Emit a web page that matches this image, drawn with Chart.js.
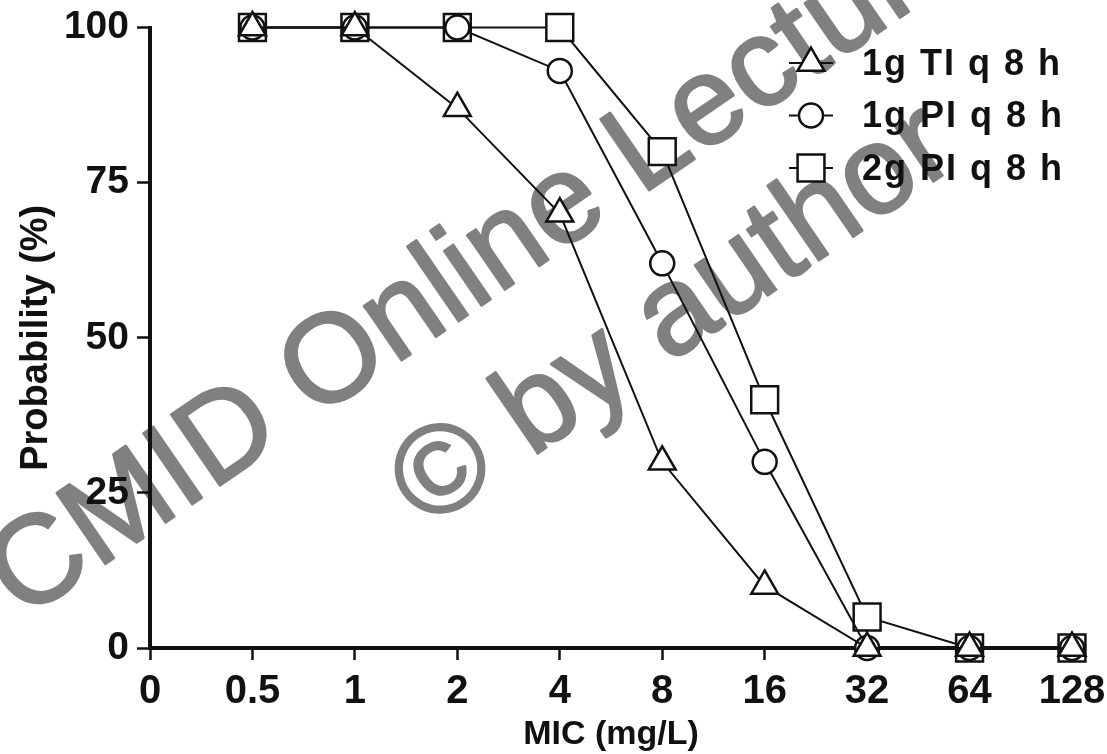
<!DOCTYPE html>
<html>
<head>
<meta charset="utf-8">
<script src="https://cdn.jsdelivr.net/npm/chart.js@4.4.0/dist/chart.umd.min.js"></script>
<style>
  html, body { margin: 0; padding: 0; background: #fff; }
  #wrap { width: 1107px; height: 754px; }
</style>
</head>
<body>
<div id="wrap"><canvas id="micChart" width="1107" height="754"></canvas></div>
<script>
// === DATA ===
const MIC_LABELS = ['0', '0.5', '1', '2', '4', '8', '16', '32', '64', '128'];
const TI_1G_Q8H = [null, 100, 100, 87, 70, 30, 10, 0, 0, 0];
const PI_1G_Q8H = [null, 100, 100, 100, 93, 62, 30, 0, 0, 0];
const PI_2G_Q8H = [null, 100, 100, 100, 100, 80, 40, 5, 0, 0];
const SERIES_NAMES = ['1g TI q 8 h', '1g PI q 8 h', '2g PI q 8 h'];
const Y_TICKS = [0, 25, 50, 75, 100];
const WATERMARK = ['CMID Online Lecture', '\u00A9 by author'];

const FONT = '"Liberation Sans", Arial, Helvetica, sans-serif';
const INK = '#111';

// === SERIES STYLE ===
function series(label, data, style, radius) {
  return {
    label, data,
    borderColor: INK, borderWidth: 2,
    pointStyle: style, pointRadius: radius, pointHoverRadius: radius,
    pointBackgroundColor: '#fff', pointBorderColor: INK, pointBorderWidth: 2.5,
    tension: 0, spanGaps: false, clip: false, fill: false
  };
}

// === WATERMARK (behind everything) ===
function stamp(ctx, text, x, y, deg) {
  ctx.save();
  ctx.fillStyle = '#808080';
  ctx.strokeStyle = '#808080';
  ctx.lineWidth = 2.5;
  ctx.lineJoin = 'round';
  ctx.textAlign = 'center';
  ctx.textBaseline = 'middle';
  ctx.font = `125px ${FONT}`;
  ctx.translate(x, y);
  ctx.rotate(deg * Math.PI / 180);
  ctx.fillText(text, 0, 0);
  ctx.strokeText(text, 0, 0);
  ctx.restore();
}

const watermark = {
  id: 'watermark',
  beforeDraw(chart) {
    stamp(chart.ctx, WATERMARK[0], 484, 262, -34.5);
    stamp(chart.ctx, WATERMARK[1], 674, 318, -34.5);
  }
};

// === LEGEND (top right, line through marker) ===
const cornerLegend = {
  id: 'cornerLegend',
  afterDraw(chart) {
    const ctx = chart.ctx;
    chart.data.datasets.forEach((ds, i) => {
      const y = 63 + i * 52.5;
      ctx.save();
      ctx.strokeStyle = INK;
      ctx.lineWidth = 2;
      ctx.beginPath();
      ctx.moveTo(789, y);
      ctx.lineTo(833, y);
      ctx.stroke();
      ctx.fillStyle = '#fff';
      ctx.lineWidth = 2.5;
      Chart.helpers.drawPoint(ctx, { pointStyle: ds.pointStyle, radius: ds.pointRadius, rotation: 0, borderWidth: 2.5 }, 811, y);
      ctx.fillStyle = INK;
      ctx.font = `bold 36px ${FONT}`;
      ctx.letterSpacing = '2px';
      ctx.textAlign = 'left';
      ctx.textBaseline = 'middle';
      ctx.fillText(SERIES_NAMES[i], 862, y + 2);
      ctx.restore();
    });
  }
};

new Chart(document.getElementById('micChart'), {
  type: 'line',
  data: {
    labels: MIC_LABELS,
    datasets: [
      series(SERIES_NAMES[0], TI_1G_Q8H, 'triangle', 15.5),
      series(SERIES_NAMES[1], PI_1G_Q8H, 'circle', 12),
      series(SERIES_NAMES[2], PI_2G_Q8H, 'rect', 19)
    ]
  },
  options: {
    responsive: false,
    animation: false,
    devicePixelRatio: 1,
    layout: { padding: { top: 27, right: 35, left: 0, bottom: 0 } },
    plugins: { legend: { display: false }, tooltip: { enabled: false } },
    scales: {
      x: {
        type: 'category',
        offset: false,
        grid: { drawOnChartArea: false, drawTicks: true, tickLength: 12, tickWidth: 2.5, tickColor: INK },
        border: { display: true, color: INK, width: 4 },
        ticks: { color: INK, font: { family: FONT, size: 40, weight: 'bold', lineHeight: 1 }, padding: 12, maxRotation: 0, autoSkip: false },
        title: { display: true, text: 'MIC (mg/L)', color: INK, font: { family: FONT, size: 34, weight: 'bold', lineHeight: 1 }, padding: { top: 0, bottom: 2 } },
        afterFit(scale) { scale.height = 106; scale.paddingRight = 0; }
      },
      y: {
        min: 0, max: 100,
        afterBuildTicks(scale) { scale.ticks = Y_TICKS.map(v => ({ value: v })); },
        grid: { drawOnChartArea: false, drawTicks: true, tickLength: 13, tickWidth: 2.5, tickColor: INK },
        border: { display: true, color: INK, width: 4 },
        ticks: { color: INK, font: { family: FONT, size: 39, weight: 'bold', lineHeight: 1 }, padding: 8 },
        title: { display: true, text: 'Probability (%)', color: INK, font: { family: FONT, size: 38, weight: 'bold', lineHeight: 1 }, padding: { top: 18, bottom: 0 } },
        afterFit(scale) { scale.width = 150; }
      }
    }
  },
  plugins: [watermark, cornerLegend]
});
</script>
</body>
</html>
